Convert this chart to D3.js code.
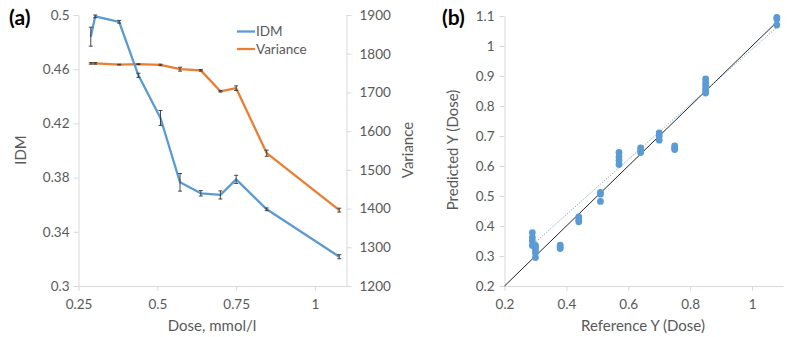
<!DOCTYPE html>
<html>
<head>
<meta charset="utf-8">
<script src="https://cdn.jsdelivr.net/npm/d3@7"></script>
<style>
  body { margin: 0; background: #fff; }
  text { font-family: Lato, "Open Sans", sans-serif; }
</style>
</head>
<body>
<svg id="chart" width="787" height="337"></svg>
<script>
// (a) dose vs IDM / Variance
var doses = [0.289, 0.303, 0.379, 0.44, 0.51, 0.572, 0.638, 0.70, 0.75, 0.847, 1.077]
var idm = [0.484, 0.499, 0.495, 0.4555, 0.424, 0.3765, 0.3684, 0.3672, 0.3787, 0.3566, 0.3216]
var idmErr = [0.007, 0.001, 0.001, 0.0015, 0.0055, 0.0065, 0.002, 0.003, 0.003, 0.001, 0.0015]
var variance = [1775, 1775, 1772, 1773, 1771, 1760, 1757, 1703, 1711, 1543, 1396]
var varianceErr = [2, 2, 1, 1, 2, 5, 2, 2, 6, 8, 5]
var xTicksA = [0.25, 0.5, 0.75, 1]
var idmTicks = [0.3, 0.34, 0.38, 0.42, 0.46, 0.5]
var varTicks = [1200, 1300, 1400, 1500, 1600, 1700, 1800, 1900]

// (b) reference vs predicted dose
var refY = [0.29, 0.29, 0.29, 0.29, 0.30, 0.30, 0.30, 0.30, 0.30,
  0.38, 0.38, 0.38, 0.44, 0.44, 0.44, 0.51, 0.51, 0.51,
  0.57, 0.57, 0.57, 0.57, 0.64, 0.64, 0.64, 0.70, 0.70, 0.70,
  0.75, 0.75, 0.75, 0.85, 0.85, 0.85, 0.85, 0.85, 0.85, 1.08, 1.08, 1.08]
var predY = [0.378, 0.362, 0.35, 0.335, 0.335, 0.328, 0.32, 0.31, 0.295,
  0.336, 0.33, 0.325, 0.43, 0.42, 0.414, 0.512, 0.506, 0.482,
  0.645, 0.63, 0.618, 0.605, 0.66, 0.652, 0.645, 0.71, 0.70, 0.686,
  0.667, 0.66, 0.655, 0.89, 0.878, 0.868, 0.858, 0.85, 0.843, 1.095, 1.09, 1.07]
var fitLine = { slope: 0.918, intercept: 0.071, from: 0.29, to: 1.08 }
var idealLine = [0.2, 1.09]
var xTicksB = [0.2, 0.4, 0.6, 0.8, 1]
var yTicksB = [0.2, 0.3, 0.4, 0.5, 0.6, 0.7, 0.8, 0.9, 1, 1.1]

var blue = "#5b9bd5", orange = "#ed7d31", axisCol = "#d9d9d9", textCol = "#595959"
var tickSize = 13.5, titleSize = 15
var svg = d3.select("#chart")

function styleAxis(g) {
    g.select(".domain").attr("stroke", axisCol)
    g.selectAll(".tick line").attr("stroke", axisCol)
    g.selectAll(".tick text").attr("fill", textCol).attr("font-size", tickSize)
}

// ---------- chart (a)
var xa = d3.scaleLinear().domain([0.25, 1.1]).range([78.5, 346.5])
var ya = d3.scaleLinear().domain([0.3, 0.5]).range([286, 15])
var yv = d3.scaleLinear().domain([1200, 1900]).range([286, 15])

svg.append("g").attr("transform", "translate(0,286)")
    .call(d3.axisBottom(xa).tickValues(xTicksA).tickSize(5).tickSizeOuter(0).tickFormat(d3.format("")))
    .call(styleAxis).selectAll(".tick text").attr("dy", "1.1em")
svg.append("g").attr("transform", "translate(78.5,0)")
    .call(d3.axisLeft(ya).tickValues(idmTicks).tickSize(5).tickSizeOuter(0).tickFormat(d3.format("")))
    .call(styleAxis).selectAll(".tick text").attr("x", -9)
svg.append("g").attr("transform", "translate(346.5,0)")
    .call(d3.axisRight(yv).tickValues(varTicks).tickSize(5).tickSizeOuter(0).tickFormat(d3.format("d")))
    .call(styleAxis).selectAll(".tick text").attr("x", 13)

var idmData = doses.map((d, i) => ({ x: d, y: idm[i], e: idmErr[i] }))
var varData = doses.map((d, i) => ({ x: d, y: variance[i], e: varianceErr[i] }))

function drawSeries(data, yScale, color) {
    svg.append("path").datum(data)
        .attr("d", d3.line().x(d => xa(d.x)).y(d => yScale(d.y)))
        .attr("fill", "none").attr("stroke", color).attr("stroke-width", 2.3).attr("stroke-linejoin", "round")
    var eb = svg.append("g").attr("stroke", "#333").attr("stroke-width", 0.9)
    data.forEach(d => {
        var x = xa(d.x), y0 = yScale(d.y - d.e), y1 = yScale(d.y + d.e)
        eb.append("line").attr("x1", x).attr("x2", x).attr("y1", y0).attr("y2", y1)
        eb.append("line").attr("x1", x - 2).attr("x2", x + 2).attr("y1", y0).attr("y2", y0)
        eb.append("line").attr("x1", x - 2).attr("x2", x + 2).attr("y1", y1).attr("y2", y1)
    })
}
drawSeries(varData, yv, orange)
drawSeries(idmData, ya, blue)

// legend
var legend = [["IDM", blue], ["Variance", orange]]
legend.forEach((l, i) => {
    var ly = 31.5 + i * 17.5
    svg.append("line").attr("x1", 237).attr("x2", 255).attr("y1", ly).attr("y2", ly)
        .attr("stroke", l[1]).attr("stroke-width", 2.3)
    svg.append("text").attr("x", 256).attr("y", ly).attr("dy", "0.35em")
        .attr("font-size", tickSize).attr("fill", textCol).text(l[0])
})

svg.append("text").attr("x", 9).attr("y", 25).attr("font-size", 21).attr("font-weight", "bold").text("(a)")
svg.append("text").attr("transform", "translate(26,150) rotate(-90)").attr("text-anchor", "middle")
    .attr("font-size", titleSize).attr("fill", textCol).text("IDM")
svg.append("text").attr("transform", "translate(413,150) rotate(-90)").attr("text-anchor", "middle")
    .attr("font-size", titleSize).attr("fill", textCol).text("Variance")
svg.append("text").attr("x", 212).attr("y", 331).attr("text-anchor", "middle")
    .attr("font-size", titleSize).attr("fill", textCol).text("Dose, mmol/l")

// ---------- chart (b)
var xb = d3.scaleLinear().domain([0.2, 1.1]).range([504.5, 783])
var yb = d3.scaleLinear().domain([0.2, 1.1]).range([286, 16])

svg.append("g").attr("transform", "translate(0,286)")
    .call(d3.axisBottom(xb).tickValues(xTicksB).tickSize(5).tickSizeOuter(0).tickFormat(d3.format("")))
    .call(styleAxis).selectAll(".tick text").attr("dy", "1.1em")
svg.append("g").attr("transform", "translate(504.5,0)")
    .call(d3.axisLeft(yb).tickValues(yTicksB).tickSize(5).tickSizeOuter(0).tickFormat(d3.format("")))
    .call(styleAxis).selectAll(".tick text").attr("x", -10)

svg.append("line")
    .attr("x1", xb(idealLine[0])).attr("y1", yb(idealLine[0]))
    .attr("x2", xb(idealLine[1])).attr("y2", yb(idealLine[1]))
    .attr("stroke", "#222").attr("stroke-width", 1)
svg.append("line")
    .attr("x1", xb(fitLine.from)).attr("y1", yb(fitLine.slope * fitLine.from + fitLine.intercept))
    .attr("x2", xb(fitLine.to)).attr("y2", yb(fitLine.slope * fitLine.to + fitLine.intercept))
    .attr("stroke", blue).attr("stroke-width", 1).attr("stroke-dasharray", "1,1.6")

svg.append("g").selectAll("circle").data(refY.map((d, i) => [d, predY[i]])).join("circle")
    .attr("cx", d => xb(d[0])).attr("cy", d => yb(d[1])).attr("r", 3.4).attr("fill", blue)

svg.append("text").attr("x", 442).attr("y", 25).attr("font-size", 21).attr("font-weight", "bold").text("(b)")
svg.append("text").attr("transform", "translate(458,150) rotate(-90)").attr("text-anchor", "middle")
    .attr("font-size", titleSize).attr("fill", textCol).text("Predicted Y (Dose)")
svg.append("text").attr("x", 643).attr("y", 331).attr("text-anchor", "middle")
    .attr("font-size", titleSize).attr("fill", textCol).text("Reference Y (Dose)")
</script>
</body>
</html>
